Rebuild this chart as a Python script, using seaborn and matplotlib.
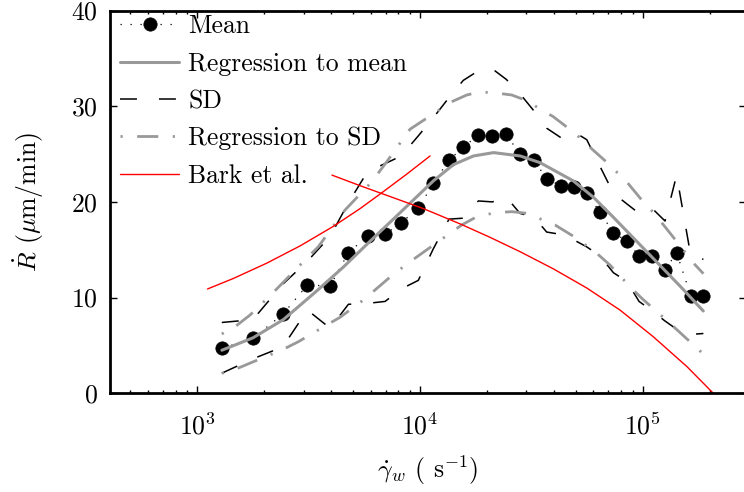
import matplotlib
matplotlib.use("Agg")
import matplotlib.pyplot as plt
import seaborn as sns
from matplotlib.ticker import LogLocator, NullFormatter, FixedLocator

# Wall shear rate bins (1/s) and measured growth rate (um/min)
shear_rate = [1287, 1775, 2418, 3119, 3945, 4766, 5820, 6966, 8225, 9820,
              11470, 13490, 15640, 18270, 21120, 24400, 28110, 32490, 37050,
              42980, 49300, 56070, 64330, 73860, 84800, 96300, 110500, 126000,
              142000, 164300, 187300]
mean_rate = [4.70, 5.75, 8.25, 11.32, 11.21, 14.69, 16.44, 16.61, 17.83, 19.33,
             21.94, 24.35, 25.74, 26.96, 26.89, 27.06, 24.97, 24.38, 22.39,
             21.69, 21.59, 20.90, 18.91, 16.78, 15.91, 14.35, 14.35, 12.88,
             14.69, 10.20, 10.17]
sd_upper = [7.4, 7.7, 11.4, 13.8, 16.4, 19.9, 23.2, 24.0, 24.8, 26.9,
            28.8, 30.9, 32.7, 33.7, 33.9, 32.8, 31.3, 29.5, 27.7,
            26.7, 27.3, 26.5, 23.7, 20.9, 19.8, 18.8, 19.3, 18.0,
            22.8, 14.4, 14.0]
sd_lower = [2.1, 3.6, 4.85, 8.7, 6.8, 9.3, 9.4, 9.6, 10.9, 11.8,
            15.1, 18.2, 18.3, 20.1, 20.0, 20.5, 18.8, 18.4, 16.85,
            16.6, 16.0, 15.3, 14.35, 12.6, 11.7, 9.6, 8.6, 7.55,
            6.7, 6.15, 6.25]

# Regression curve through the mean
reg_mean_x = [1288, 1778, 2432, 3436, 4529, 5970, 7586, 9333, 11480, 14130,
              17380, 21380, 28180, 34590, 48750, 59980, 73790, 104200,
              147200, 187100]
reg_mean_y = [4.5, 5.8, 7.7, 10.7, 13.2, 15.9, 18.2, 20.2, 22.2, 23.9,
              24.8, 25.15, 24.8, 24.1, 22.2, 20.5, 18.4, 14.8,
              11.2, 8.6]

# Regression curves through mean +/- SD
reg_sd_up_x = [1287, 1476, 1724, 2136, 2992, 3493, 4603, 6068, 7087, 9018,
               13880, 16210, 18580, 22470, 25810, 29610, 39680, 49650, 59980,
               70050, 86150, 98980, 111600, 125900, 149700, 166000, 187300]
reg_sd_up_y = [6.2, 6.96, 8.18, 10.27, 13.75, 15.32, 19.15, 22.1, 24.2, 27.6,
               30.47, 31.17, 31.5, 31.35, 31.17, 30.65, 28.9, 27.17, 25.4,
               24.0, 21.9, 20.2, 18.9, 17.4, 15.2, 13.8, 12.5]
reg_sd_lo_x = [1287, 1517, 1784, 2393, 2841, 3873, 4373, 5564, 7465, 9018,
               15390, 17970, 21720, 25810, 30130, 40370, 50530, 54080, 62150,
               71300, 87700, 98980, 113600, 132600, 163000, 187300]
reg_sd_lo_y = [2.09, 2.61, 3.30, 4.52, 5.39, 7.24, 7.94, 9.75, 12.3, 13.75,
               17.59, 18.45, 18.87, 18.98, 18.81, 17.59, 16.2, 15.67, 14.63,
               13.4, 11.14, 9.93, 8.70, 7.31, 5.39, 4.1]

# Bark et al. model, two branches
bark_rise_x = [1110, 1451, 2049, 2891, 4083, 5378, 6730, 8710, 11090]
bark_rise_y = [10.9, 12.0, 13.6, 15.4, 17.45, 19.3, 20.95, 22.9, 24.8]
bark_fall_x = [4020, 5370, 10350, 15140, 20610, 28120, 39720, 56100, 79070,
               111700, 157800, 207500]
bark_fall_y = [22.8, 21.7, 19.3, 17.7, 16.3, 14.8, 13.0, 11.0, 8.7,
               5.9, 2.8, 0.0]

GRAY = "#999999"

sns.set_style("ticks")
plt.rcParams.update({
    "font.family": ["cmr10", "DejaVu Serif"],
    "mathtext.fontset": "cm",
    "axes.formatter.use_mathtext": True,
    "axes.unicode_minus": False,
    "font.size": 18.5,
    "axes.linewidth": 2.0,
    "axes.edgecolor": "black",
    "axes.labelcolor": "black",
    "text.color": "black",
    "xtick.color": "black",
    "ytick.color": "black",
})

fig = plt.figure(figsize=(7.44, 4.92), dpi=100)
ax = fig.add_axes([110 / 744, (492 - 393.3) / 492, 636 / 744, 382.8 / 492])
ax.set_xscale("log")

common = dict(ax=ax, estimator=None, sort=False)

sns.lineplot(x=shear_rate, y=mean_rate, color="black", linestyle=(0, (1, 7)),
             linewidth=0.9, marker="o", markersize=9.6,
             markeredgecolor="black", markerfacecolor="black",
             markeredgewidth=0.5, label="Mean", **common)

sns.lineplot(x=reg_mean_x, y=reg_mean_y, color=GRAY, linewidth=2.2,
             label="Regression to mean", **common)

sd_dash = (0, (11.1, 14.4))
sns.lineplot(x=shear_rate, y=sd_upper, color="black", linewidth=1.1,
             linestyle=sd_dash, label="SD", **common)
sns.lineplot(x=shear_rate, y=sd_lower, color="black", linewidth=1.1,
             linestyle=sd_dash, **common)

reg_sd_dash = (0, (0.8, 5.2, 7.6, 5.2))
sns.lineplot(x=reg_sd_up_x, y=reg_sd_up_y, color=GRAY, linewidth=2.0,
             linestyle=reg_sd_dash, label="Regression to SD", **common)
sns.lineplot(x=reg_sd_lo_x, y=reg_sd_lo_y, color=GRAY, linewidth=2.0,
             linestyle=reg_sd_dash, **common)

sns.lineplot(x=bark_rise_x, y=bark_rise_y, color="red", linewidth=1.0,
             label="Bark et al.", **common)
sns.lineplot(x=bark_fall_x, y=bark_fall_y, color="red", linewidth=1.0,
             **common)

ax.set_xlim(405, 2.91e5)
ax.set_ylim(0, 40)
ax.yaxis.set_major_locator(FixedLocator([0, 10, 20, 30, 40]))
ax.xaxis.set_major_locator(LogLocator(base=10, numticks=10))
ax.xaxis.set_minor_locator(LogLocator(base=10, subs=range(2, 10), numticks=20))
ax.xaxis.set_minor_formatter(NullFormatter())

ax.tick_params(which="both", direction="in", top=True, right=True, width=1.0)
ax.tick_params(which="major", length=5, pad=9)
ax.tick_params(which="minor", length=2.5)
ax.tick_params(axis="x", which="major", pad=14)

ax.set_xlabel(r"$\dot{\gamma}_w$ ( s$^{-1}$)", labelpad=10)
ax.set_ylabel(r"$\dot{R}$ ($\mu$m/min)", labelpad=18)

ax.legend(loc="upper left", bbox_to_anchor=(0.0, 1.016), frameon=False,
          handlelength=2.3, handletextpad=0.35, labelspacing=0.53,
          borderaxespad=0.0, borderpad=0.4, numpoints=1)

fig.savefig("out.png", dpi=100)
